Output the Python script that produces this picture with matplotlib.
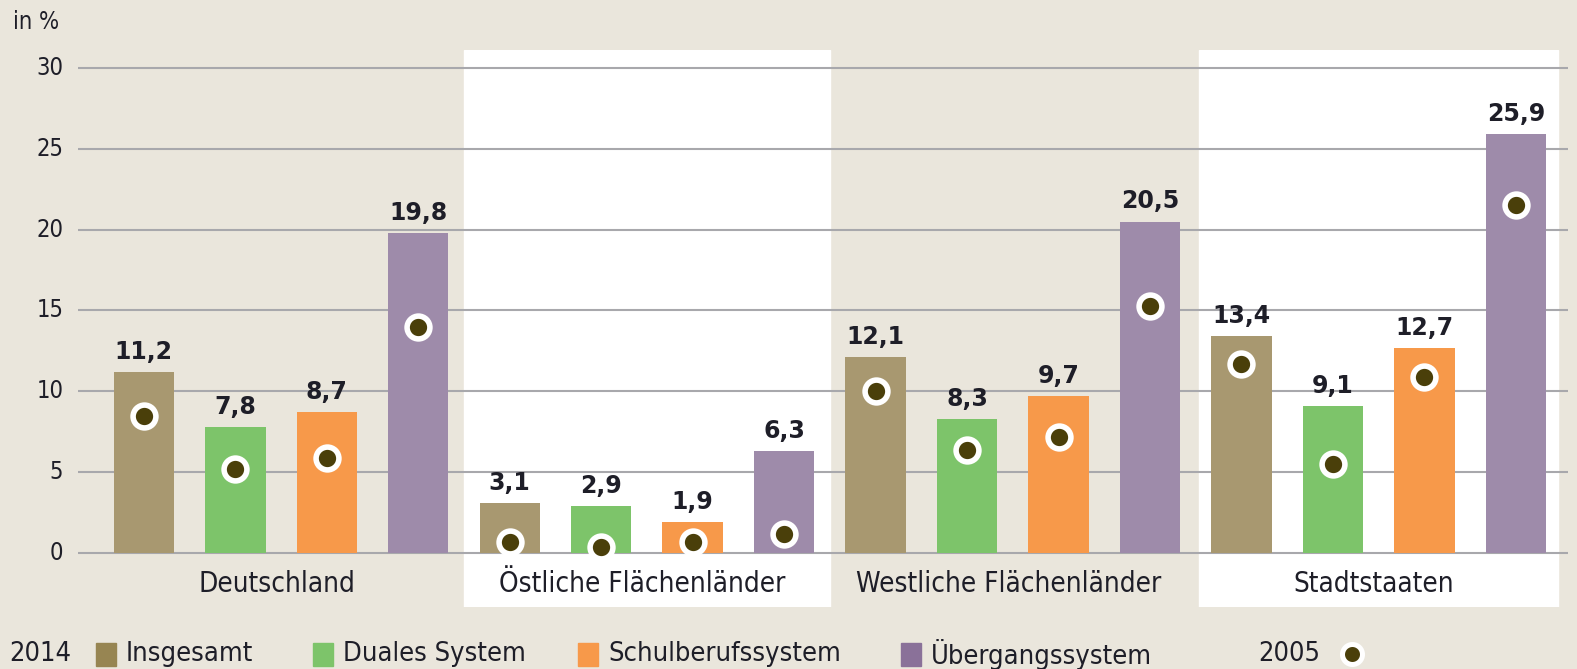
import matplotlib.pyplot as plt
import matplotlib.patches as mpatches
from matplotlib.lines import Line2D
import numpy as np

plt.rcParams['font.family'] = ['DejaVu Sans']

groups = ['Deutschland', 'Östliche Flächenländer', 'Westliche Flächenländer', 'Stadtstaaten']
series = ['Insgesamt', 'Duales System', 'Schulberufssystem', 'Übergangssystem']
colors = ['#A89870', '#7DC46A', '#F7994A', '#9E8BAA']
legend_colors = ['#978552', '#7DC46A', '#F7994A', '#8A7199']

vals_2014 = {
    'Insgesamt': [11.2, 3.1, 12.1, 13.4],
    'Duales System': [7.8, 2.9, 8.3, 9.1],
    'Schulberufssystem': [8.7, 1.9, 9.7, 12.7],
    'Übergangssystem': [19.8, 6.3, 20.5, 25.9],
}
vals_2005 = {
    'Insgesamt': [8.5, 0.7, 10.0, 11.7],
    'Duales System': [5.2, 0.4, 6.4, 5.5],
    'Schulberufssystem': [5.9, 0.7, 7.2, 10.9],
    'Übergangssystem': [14.0, 1.2, 15.3, 21.5],
}
yticks = [0, 5, 10, 15, 20, 25, 30]

bg = '#EAE6DC'
dot_col = '#4A3F0A'
txt_col = '#1E1E28'
cond = dict(fontstretch='condensed')

W, H = 1577, 669
fig = plt.figure(figsize=(W / 100, H / 100), dpi=100, facecolor=bg)
ax = fig.add_axes([78 / W, 1 - 607 / H, (1568 - 78) / W, (607 - 50) / H])
ax.set_facecolor(bg)
ax.set_xlim(-0.72, 15.57)
ax.set_ylim(-3.34, 31.11)
for s in ax.spines.values():
    s.set_visible(False)
ax.set_xticks([])
ax.set_yticks([])

# white bands behind 2nd and 4th group
ax.axvspan(3.5, 7.5, color='white', zorder=0)
ax.axvspan(11.54, 15.46, color='white', zorder=0)

for t in yticks:
    ax.axhline(t, color='#A8A8AC', lw=1.5, zorder=1)
    ax.text(-0.88, t, str(t), ha='right', va='center', fontsize=17,
            color=txt_col, clip_on=False, **cond)

for i, name in enumerate(series):
    xs = np.arange(len(groups)) * 4 + i
    ax.bar(xs, vals_2014[name], width=0.66, color=colors[i], zorder=2)
    ax.scatter(xs, vals_2005[name], s=270, color=dot_col, edgecolors='white',
               linewidths=4, zorder=3)
    for x, v in zip(xs, vals_2014[name]):
        ax.text(x, v + 0.5, f'{v:.1f}'.replace('.', ','), ha='center', va='bottom',
                fontsize=17, fontweight='bold', color=txt_col, zorder=4)

for g, name in enumerate(groups):
    ax.text(g * 4 + 1.45, -1.9, name, ha='center', va='center', fontsize=20,
            color=txt_col, **cond)

fig.text(13 / W, 1 - 22 / H, 'in %', ha='left', va='center', fontsize=17,
         color=txt_col, **cond)

# legend row
ly = 1 - 654 / H
fig.text(9 / W, ly, '2014', ha='left', va='center', fontsize=19.5, color=txt_col, **cond)
leg_x = [96, 313, 578, 901]
for i, name in enumerate(series):
    fig.patches.append(mpatches.Rectangle((leg_x[i] / W, ly - 11.5 / H), 20 / W, 23 / H,
                                          transform=fig.transFigure, color=legend_colors[i]))
    fig.text((leg_x[i] + 30) / W, ly, name, ha='left', va='center', fontsize=19.5,
             color=txt_col, **cond)
fig.text(1258 / W, ly, '2005', ha='left', va='center', fontsize=19.5, color=txt_col, **cond)
fig.lines.append(Line2D([1352 / W], [ly], transform=fig.transFigure, marker='o',
                        markersize=14.4, markerfacecolor=dot_col, markeredgecolor='white',
                        markeredgewidth=3.6, linestyle='none'))

fig.savefig('out.png', dpi=100, facecolor=bg)
